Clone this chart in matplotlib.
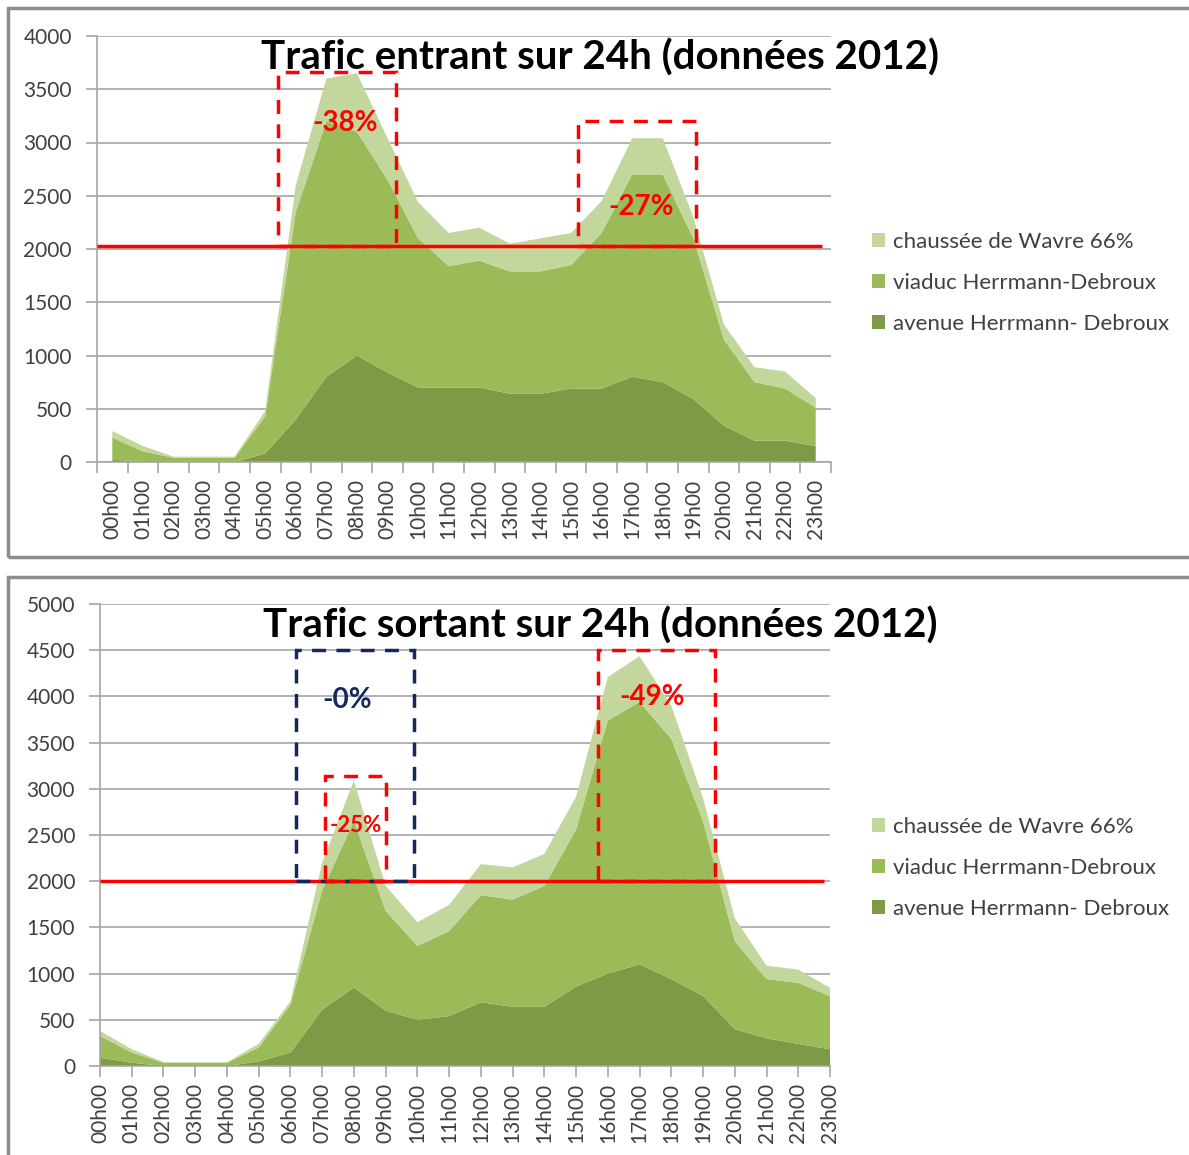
import matplotlib
matplotlib.use('Agg')
import matplotlib.pyplot as plt
from matplotlib.patches import Rectangle, Patch

plt.rcParams['font.family'] = ['Lato', 'DejaVu Sans']

# Data
#-----
hours = ['%02dh00' % h for h in range(24)]
series_names = ['chaussée de Wavre 66%', 'viaduc Herrmann-Debroux', 'avenue Herrmann- Debroux']

avenue_in = [20, 10, 0, 0, 0, 80, 400, 800, 1000, 840, 700, 700, 700, 640, 640, 690, 690, 800, 750, 590, 340, 200, 200, 150]
viaduc_in = [210, 90, 40, 40, 40, 350, 1950, 2400, 2100, 1810, 1400, 1140, 1190, 1150, 1150, 1160, 1460, 1900, 1950, 1510, 810, 550, 490, 360]
chaussee_in = [60, 50, 10, 10, 10, 50, 250, 400, 550, 390, 340, 310, 310, 260, 310, 300, 300, 340, 340, 200, 140, 140, 160, 90]

avenue_out = [90, 36, 0, 0, 0, 50, 145, 610, 850, 600, 500, 540, 690, 640, 640, 860, 1000, 1100, 940, 760, 400, 300, 240, 180]
viaduc_out = [235, 110, 35, 35, 35, 150, 520, 1290, 1800, 1080, 800, 920, 1160, 1160, 1310, 1700, 2740, 2840, 2600, 1890, 950, 640, 660, 575]
chaussee_out = [55, 35, 7, 7, 7, 40, 35, 300, 440, 270, 255, 285, 335, 350, 345, 355, 470, 495, 360, 250, 250, 145, 144, 90]

seuil_in = 2030
seuil_out = 2000

# boxes: (x0, x1, top, label, color)
boxes_in = [(5.43, 9.28, 3660, '-38%', 'red'), (15.22, 19.07, 3200, '-27%', 'red')]
boxes_out = [(6.18, 9.9, 4500, '-0%', '#14285e'), (7.1, 9.0, 3140, '-25%', 'red'), (15.68, 19.37, 4500, '-49%', 'red')]
labels_in = [(7.6, 3180, '-38%', 20), (17.3, 2390, '-27%', 20)]
labels_out = [(7.8, 3960, '-0%', 20, '#14285e'), (8.05, 2600, '-25%', 16, 'red'), (17.4, 3990, '-49%', 20, 'red')]

c_light = '#c3d69b'
c_mid = '#9bbb59'
c_dark = '#7e9a47'
grid_col = '#a6a6a6'
txt_col = '#404040'

W, H = 1189, 1155
fig = plt.figure(figsize=(W / 100, H / 100), dpi=100)

# panel borders
for (x0, y0, x1, y1) in [(8, 8, 1195, 557), (8, 577, 1195, 1165)]:
    fig.patches.append(Rectangle((x0 / W, 1 - y1 / H), (x1 - x0) / W, (y1 - y0) / H,
                                 transform=fig.transFigure, fill=False,
                                 edgecolor='#8c8c8c', linewidth=2.5))


def style_axes(ax, ymax):
    ax.set_ylim(0, ymax)
    ax.set_yticks(range(0, ymax + 1, 500))
    ax.yaxis.grid(True, color=grid_col, linewidth=1.2)
    ax.set_axisbelow(True)
    for s in ['top', 'right']:
        ax.spines[s].set_visible(False)
    ax.spines['left'].set_color(grid_col)
    ax.spines['bottom'].set_color(grid_col)
    ax.spines['left'].set_linewidth(1.2)
    ax.spines['bottom'].set_linewidth(1.2)
    ax.tick_params(axis='y', colors=grid_col, labelcolor=txt_col, labelsize=15, length=8, width=1.2, pad=10)
    ax.tick_params(axis='x', which='both', colors=grid_col, labelcolor=txt_col, labelsize=15, width=1.2)


def draw_boxes(ax, boxes, base):
    for (x0, x1, top, lab, col) in boxes:
        r = Rectangle((x0, base), x1 - x0, top - base, fill=False, edgecolor=col,
                      linewidth=2.5, linestyle=(0, (4, 3)), zorder=5)
        ax.add_patch(r)


def legend_for(y_center):
    handles = [Patch(facecolor=c_light), Patch(facecolor=c_mid), Patch(facecolor=c_dark)]
    fig.legend(handles, series_names, loc='center left', bbox_to_anchor=(852 / W, 1 - y_center / H),
               frameon=False, fontsize=16, handlelength=0.6, handleheight=0.6,
               handletextpad=0.35, labelspacing=0.95, labelcolor=txt_col)


# 1 Trafic entrant
#-----------------
ax1 = fig.add_axes([97 / W, 1 - 462 / H, (831 - 97) / W, (462 - 36) / H])
x = list(range(24))
ax1.stackplot(x, avenue_in, viaduc_in, chaussee_in, colors=[c_dark, c_mid, c_light], linewidth=0)
style_axes(ax1, 4000)
ax1.set_xlim(-0.5, 23.5)
ax1.set_xticks(x)
ax1.set_xticklabels(hours, rotation=90)
ax1.set_xticks([i - 0.5 for i in range(25)], minor=True)
ax1.tick_params(axis='x', which='major', length=0, pad=12)
ax1.tick_params(axis='x', which='minor', length=8)
ax1.hlines(seuil_in, -0.5, 23.2, color='red', linewidth=2.5, zorder=4)
draw_boxes(ax1, boxes_in, seuil_in)
for (lx, ly, lab, fs) in labels_in:
    ax1.text(lx, ly, lab, color='red', fontsize=fs, fontweight='bold', ha='center', va='center', zorder=6)
fig.text(600 / W, 1 - 58 / H, 'Trafic entrant sur 24h (données 2012)', fontsize=29,
         fontweight='bold', ha='center', va='center', color='black')
legend_for(283)

# 2 Trafic sortant
#-----------------
ax2 = fig.add_axes([100 / W, 1 - 1066 / H, (830 - 100) / W, (1066 - 604) / H])
ax2.stackplot(x, avenue_out, viaduc_out, chaussee_out, colors=[c_dark, c_mid, c_light], linewidth=0)
style_axes(ax2, 5000)
ax2.set_xlim(0, 23)
ax2.set_xticks(x)
ax2.set_xticklabels(hours, rotation=90)
ax2.tick_params(axis='x', which='major', length=8, pad=4)
ax2.hlines(seuil_out, 0, 22.8, color='red', linewidth=2.5, zorder=4)
draw_boxes(ax2, boxes_out, seuil_out)
for (lx, ly, lab, fs, col) in labels_out:
    ax2.text(lx, ly, lab, color=col, fontsize=fs, fontweight='bold', ha='center', va='center', zorder=6)
fig.text(600 / W, 1 - 626 / H, 'Trafic sortant sur 24h (données 2012)', fontsize=29,
         fontweight='bold', ha='center', va='center', color='black')
legend_for(868)

fig.savefig('out.png', dpi=100)
